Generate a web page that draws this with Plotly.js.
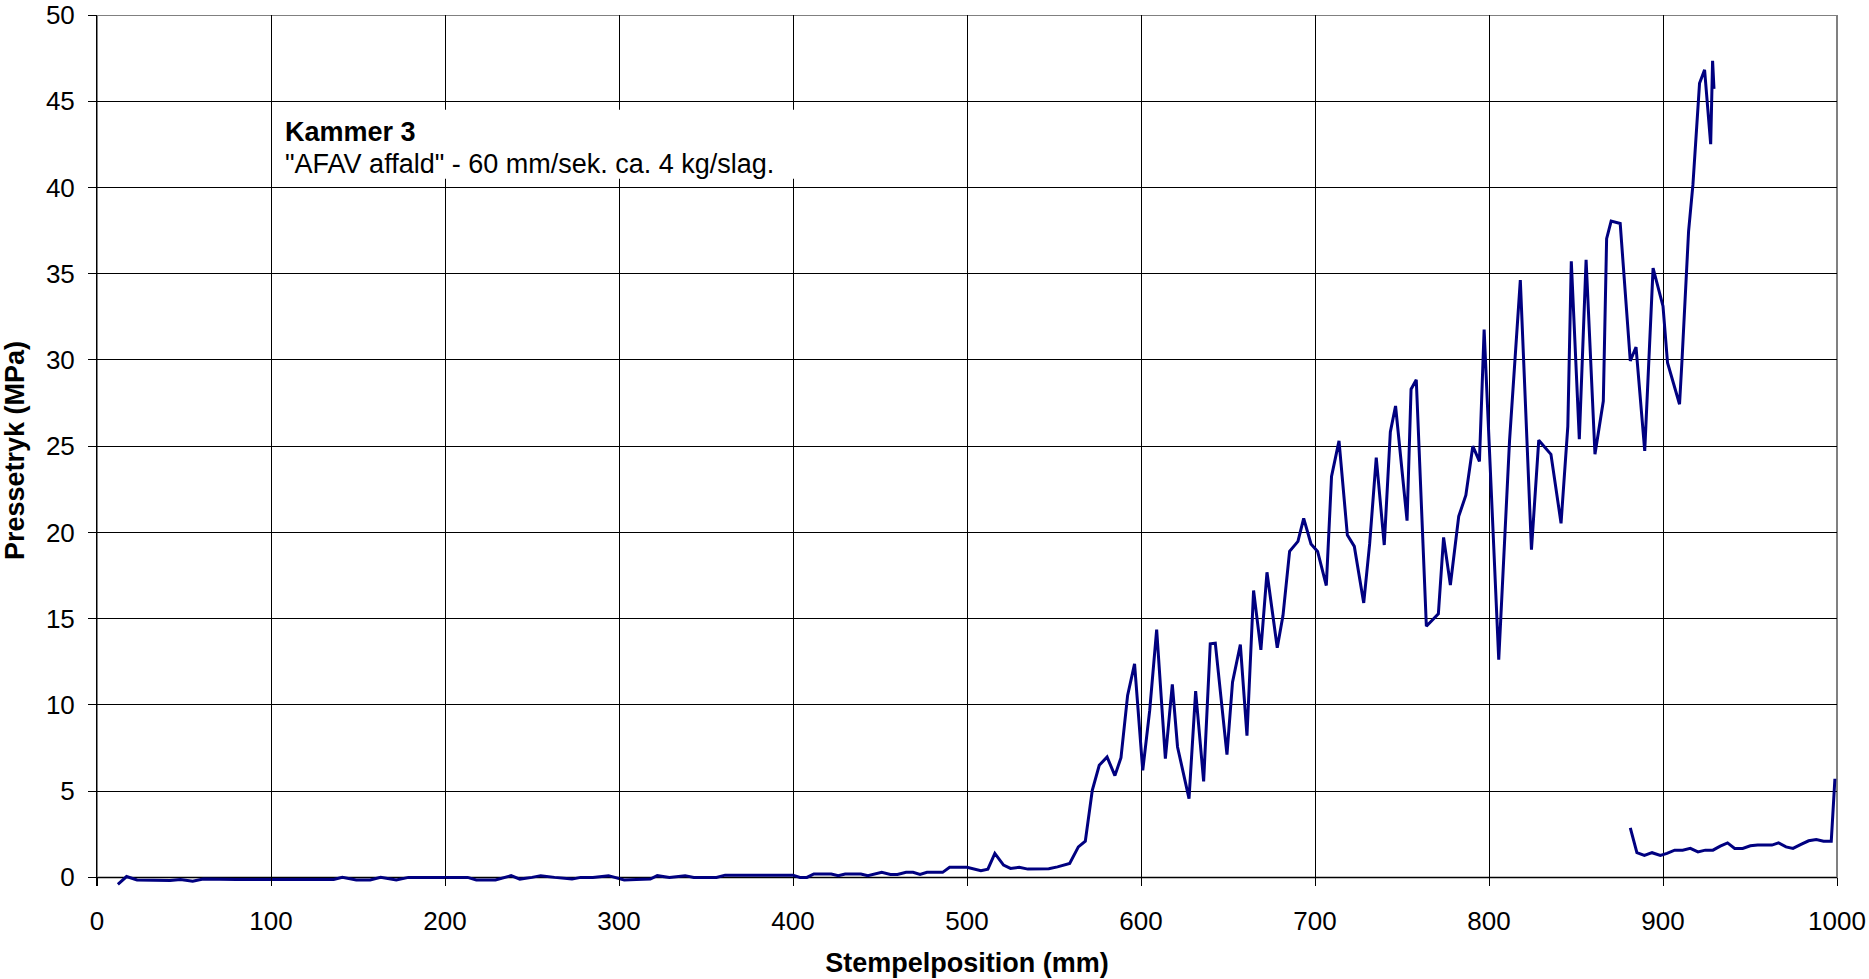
<!DOCTYPE html>
<html>
<head>
<meta charset="utf-8">
<script src="https://cdn.plot.ly/plotly-3.0.1.min.js"></script>
<style>
  html, body { margin: 0; padding: 0; background: #fff; }
  #chart { width: 1869px; height: 979px; }
</style>
</head>
<body>
<div id="chart"></div>
<script>
// Main stroke: piston position (mm) vs. press pressure (MPa)
const posA = [12, 17, 23, 32, 42, 48, 55, 61, 70, 80, 90, 100, 110, 120, 130, 136, 141, 149, 157, 163,
  172, 179, 190, 200, 208, 213, 218, 229, 238, 243, 250, 255, 263, 273, 278, 285, 294, 303, 310, 318,
  322, 329, 338, 343, 350, 356, 361, 370, 380, 390, 400, 404, 408, 412, 417, 422, 426, 430, 435, 439,
  443, 451, 456, 460, 465, 469, 473, 477, 482, 486, 490, 495, 500, 508, 512, 516, 521, 525, 530, 535,
  541, 547, 552, 559, 564, 568, 572, 576, 580.5, 585, 588.5, 592.3, 596.3, 601, 605, 609, 614, 618,
  621, 627.6, 631.4, 636, 639.8, 642.7, 649.4, 652.6, 657.1, 660.9, 664.7, 668.9, 672.4, 678.3, 681.6,
  685.4, 690.2, 693.5, 697.7, 701.5, 706.5, 709.5, 713.8, 718.6, 722.6, 728, 731.4, 735.2, 739.8,
  743.3, 746.3, 752.9, 755.2, 758.2, 764, 770.9, 773.9, 777.8, 782.6, 786.7, 790.7, 794.5, 797.2,
  805.6, 811.8, 818, 824.4, 828.6, 835.6, 841.4, 845.3, 847.3, 851.9, 855.8, 860.9, 865.7, 867.6,
  870.2, 875.4, 881.2, 884.5, 889.5, 894.3, 900, 902.6, 909.5, 910.9, 914.7, 917.2, 921, 923.9,
  927.4, 928.5, 929.3];
const pressA = [-0.4, 0.05, -0.15, -0.18, -0.18, -0.12, -0.22, -0.1, -0.12, -0.12, -0.12, -0.12, -0.12, -0.12, -0.12, -0.12, 0.0, -0.15, -0.15, 0.0,
  -0.15, 0.0, 0.0, 0.0, 0.0, 0.0, -0.15, -0.15, 0.1, -0.1, 0.0, 0.1, 0.0, -0.1, 0.0, 0.0, 0.1, -0.15, -0.12, -0.1,
  0.1, 0.0, 0.1, 0.0, 0.0, 0.0, 0.13, 0.13, 0.13, 0.13, 0.13, 0.0, 0.0, 0.2, 0.2, 0.2, 0.1, 0.2, 0.2, 0.2,
  0.1, 0.29, 0.17, 0.17, 0.29, 0.29, 0.17, 0.29, 0.29, 0.29, 0.58, 0.58, 0.58, 0.39, 0.48, 1.39, 0.71, 0.52, 0.58, 0.48,
  0.48, 0.5, 0.61, 0.81, 1.77, 2.1, 5.05, 6.5, 6.98, 5.9, 6.94, 10.55, 12.38, 6.2, 9.68, 14.37, 6.89, 11.19,
  7.56, 4.57, 10.8, 5.57, 13.54, 13.58, 7.12, 11.32, 13.5, 8.22, 16.63, 13.19, 17.69, 13.31, 15.18,
  18.9, 19.48, 20.81, 19.33, 18.9, 16.92, 23.24, 25.31, 19.85, 19.19, 15.91, 19.33, 24.34, 19.27,
  25.83, 27.33, 20.68, 28.3, 28.85, 14.56, 15.28, 19.71, 16.95, 20.93, 22.16, 25.0, 24.12, 31.76,
  12.62, 25.31, 34.63, 19.0, 25.35, 24.53, 20.53, 26.15, 35.72, 25.41, 35.8, 24.53, 27.62, 37.03,
  38.05, 37.91, 29.94, 30.75, 24.73, 35.32, 33.12, 29.84, 27.43, 29.94, 37.46, 40.16, 46.04, 46.82,
  42.51, 47.34, 45.72];

// Return stroke readings near the end of the chamber
const posB = [881.2, 885, 889.3, 893.7, 898.5, 902.3, 906.7, 911.3, 915.7, 920.1, 924.3, 928.7, 932.9,
  937.1, 941.2, 945.8, 950.2, 954.4, 962.6, 966.4, 970.7, 974.7, 979.3, 983.7, 988.1, 992.3, 996.7, 998.8];
const pressB = [2.87, 1.43, 1.27, 1.43, 1.27, 1.39, 1.58, 1.58, 1.68, 1.48, 1.58, 1.58, 1.81,
  2.0, 1.68, 1.68, 1.83, 1.87, 1.87, 2.0, 1.77, 1.68, 1.91, 2.12, 2.2, 2.1, 2.1, 5.72];

const xTicks = [0, 100, 200, 300, 400, 500, 600, 700, 800, 900, 1000];
const yTicks = [0, 5, 10, 15, 20, 25, 30, 35, 40, 45, 50];

const chartTitle = 'Kammer 3';
const chartSubtitle = '"AFAV affald" - 60 mm/sek. ca. 4 kg/slag.';

const FONT = 'Liberation Sans, Arial, sans-serif';
const lineStyle = { color: '#000080', width: 3 };

// The value axis starts a little below zero so that slightly negative
// readings stay visible under the category axis line.
const yMin = -0.5, yMax = 50;
const xAxisPos = (0 - yMin) / (yMax - yMin);

const traces = [
  { x: posA, y: pressA, type: 'scatter', mode: 'lines', line: lineStyle, hoverinfo: 'x+y' },
  { x: posB, y: pressB, type: 'scatter', mode: 'lines', line: lineStyle, hoverinfo: 'x+y' }
];

const layout = {
  width: 1869,
  height: 979,
  margin: { l: 97, r: 32, t: 15, b: 93, pad: 0 },
  paper_bgcolor: '#ffffff',
  plot_bgcolor: '#ffffff',
  showlegend: false,
  font: { family: FONT, color: '#000' },
  xaxis: {
    range: [0, 1000],
    anchor: 'free', position: xAxisPos,
    tickvals: xTicks,
    ticktext: xTicks.map(String),
    showgrid: true, gridcolor: '#000', gridwidth: 1,
    zeroline: false,
    showline: false,
    ticks: 'outside', ticklen: 8, tickwidth: 1, tickcolor: '#000',
    ticklabelstandoff: 12,
    ticklabeloverflow: 'allow',
    tickfont: { family: FONT, size: 26, color: '#000' },
    title: { text: '<b>Stempelposition (mm)</b>', font: { family: FONT, size: 27, color: '#000' }, standoff: 18 },
    fixedrange: true
  },
  yaxis: {
    range: [yMin, yMax],
    tickvals: yTicks,
    ticktext: yTicks.map(String),
    showgrid: true, gridcolor: '#000', gridwidth: 1,
    zeroline: false,
    showline: true, linecolor: '#000', linewidth: 1,
    ticks: 'outside', ticklen: 8, tickwidth: 1, tickcolor: '#000',
    ticklabelstandoff: 8,
    ticklabeloverflow: 'allow',
    tickfont: { family: FONT, size: 26, color: '#000' },
    title: { text: '<b>Pressetryk (MPa)</b>', font: { family: FONT, size: 27, color: '#000' }, standoff: 18 },
    fixedrange: true
  },
  shapes: [
    // plot-area frame
    { type: 'rect', xref: 'paper', yref: 'y', x0: 0, x1: 1, y0: 0, y1: yMax,
      line: { color: '#808080', width: 2 }, fillcolor: 'rgba(0,0,0,0)', layer: 'between' },
    // white panel behind the text block
    { type: 'rect', xref: 'x', yref: 'y', x0: 101, x1: 404, y0: 40.5, y1: 44.5,
      line: { width: 0 }, fillcolor: '#ffffff', layer: 'between' }
  ],
  annotations: [
    {
      xref: 'x', yref: 'y', x: 107.5, y: 43.2, xanchor: 'left', yanchor: 'middle',
      text: '<b>' + chartTitle + '</b>', showarrow: false, borderpad: 0,
      font: { family: FONT, size: 27, color: '#000' }
    },
    {
      xref: 'x', yref: 'y', x: 107.5, y: 41.37, xanchor: 'left', yanchor: 'middle',
      text: chartSubtitle, showarrow: false, borderpad: 0,
      font: { family: FONT, size: 27, color: '#000' }
    }
  ]
};

Plotly.newPlot('chart', traces, layout, { displayModeBar: false, staticPlot: true });
</script>
</body>
</html>
